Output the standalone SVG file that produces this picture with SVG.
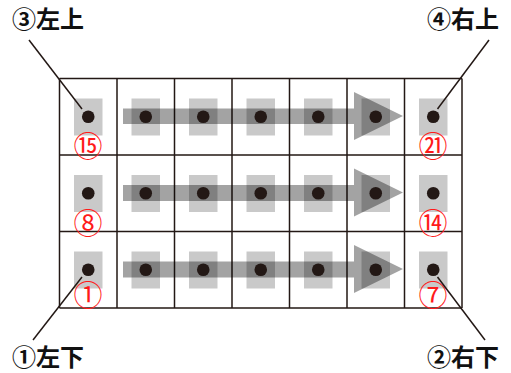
<svg xmlns="http://www.w3.org/2000/svg" width="511" height="373" viewBox="0 0 511 373">
<style>
.grid{fill:none;stroke:#231815;stroke-width:1.5}
.sq{fill:#c9c9c9}
.dot{fill:#231815}
.band{fill:#000;fill-opacity:0.36}
.num{font-family:"Noto Sans CJK JP","Noto Sans CJK SC",sans-serif;font-size:29px;fill:#ff1a1a;text-anchor:middle;dominant-baseline:central}
.lbl{font-family:"Noto Sans CJK JP","Noto Sans CJK SC",sans-serif;font-size:24px;fill:#111;font-weight:bold}
.lead{stroke:#231815;stroke-width:1.5;fill:none}
</style>
<rect width="511" height="373" fill="#fff"/>
<g id="grid">
<path class="grid" d="M59.5 78.5H462M59.5 155H462M59.5 231.5H462M59.5 308H462M59.5 78.5V308M117 78.5V308M174.5 78.5V308M232 78.5V308M289.5 78.5V308M347 78.5V308M404.5 78.5V308M462 78.5V308"/>
</g>
<g id="squares">
<rect class="sq" x="74" y="98.5" width="28.5" height="37"/><rect class="sq" x="131.5" y="98.5" width="28.5" height="37"/><rect class="sq" x="189" y="98.5" width="28.5" height="37"/><rect class="sq" x="246.5" y="98.5" width="28.5" height="37"/><rect class="sq" x="304" y="98.5" width="28.5" height="37"/><rect class="sq" x="361.5" y="98.5" width="28.5" height="37"/><rect class="sq" x="419" y="98.5" width="28.5" height="37"/>
<rect class="sq" x="74" y="175" width="28.5" height="37"/><rect class="sq" x="131.5" y="175" width="28.5" height="37"/><rect class="sq" x="189" y="175" width="28.5" height="37"/><rect class="sq" x="246.5" y="175" width="28.5" height="37"/><rect class="sq" x="304" y="175" width="28.5" height="37"/><rect class="sq" x="361.5" y="175" width="28.5" height="37"/><rect class="sq" x="419" y="175" width="28.5" height="37"/>
<rect class="sq" x="74" y="251.5" width="28.5" height="37"/><rect class="sq" x="131.5" y="251.5" width="28.5" height="37"/><rect class="sq" x="189" y="251.5" width="28.5" height="37"/><rect class="sq" x="246.5" y="251.5" width="28.5" height="37"/><rect class="sq" x="304" y="251.5" width="28.5" height="37"/><rect class="sq" x="361.5" y="251.5" width="28.5" height="37"/><rect class="sq" x="419" y="251.5" width="28.5" height="37"/>
</g>
<g id="arrows">
<path class="band" d="M123 108.5H354V92L403 116L354 140V124H123Z"/>
<path class="band" d="M123 185H354V168.5L403 192.5L354 216.5V201H123Z"/>
<path class="band" d="M123 261.5H354V245L403 269L354 293V277.5H123Z"/>
</g>
<g id="dots">
<circle class="dot" cx="88.25" cy="116.7" r="6.3"/><circle class="dot" cx="145.75" cy="116.7" r="6.3"/><circle class="dot" cx="203.25" cy="116.7" r="6.3"/><circle class="dot" cx="260.75" cy="116.7" r="6.3"/><circle class="dot" cx="318.25" cy="116.7" r="6.3"/><circle class="dot" cx="375.75" cy="116.7" r="6.3"/><circle class="dot" cx="433.25" cy="116.7" r="6.3"/>
<circle class="dot" cx="88.25" cy="193.2" r="6.3"/><circle class="dot" cx="145.75" cy="193.2" r="6.3"/><circle class="dot" cx="203.25" cy="193.2" r="6.3"/><circle class="dot" cx="260.75" cy="193.2" r="6.3"/><circle class="dot" cx="318.25" cy="193.2" r="6.3"/><circle class="dot" cx="375.75" cy="193.2" r="6.3"/><circle class="dot" cx="433.25" cy="193.2" r="6.3"/>
<circle class="dot" cx="88.25" cy="269.7" r="6.3"/><circle class="dot" cx="145.75" cy="269.7" r="6.3"/><circle class="dot" cx="203.25" cy="269.7" r="6.3"/><circle class="dot" cx="260.75" cy="269.7" r="6.3"/><circle class="dot" cx="318.25" cy="269.7" r="6.3"/><circle class="dot" cx="375.75" cy="269.7" r="6.3"/><circle class="dot" cx="433.25" cy="269.7" r="6.3"/>
</g>
<g id="numbers">
<text class="num" x="88" y="144">⑮</text>
<text class="num" x="433" y="144">㉑</text>
<text class="num" x="88" y="220.5">⑧</text>
<text class="num" x="433" y="220.5">⑭</text>
<text class="num" x="88" y="293">①</text>
<text class="num" x="433" y="293">⑦</text>
</g>
<g id="connectors">
<path class="lead" d="M29 40L82 109"/>
<path class="lead" d="M489 40L437.5 109"/>
<path class="lead" d="M33 340L82 277"/>
<path class="lead" d="M485 340L437.5 277"/>
</g>
<g id="label-tl"><text class="lbl" x="12" y="28">③左上</text></g>
<g id="label-tr"><text class="lbl" x="427" y="28">④右上</text></g>
<g id="label-bl"><text class="lbl" x="12" y="366">①左下</text></g>
<g id="label-br"><text class="lbl" x="427" y="366">②右下</text></g>
</svg>
